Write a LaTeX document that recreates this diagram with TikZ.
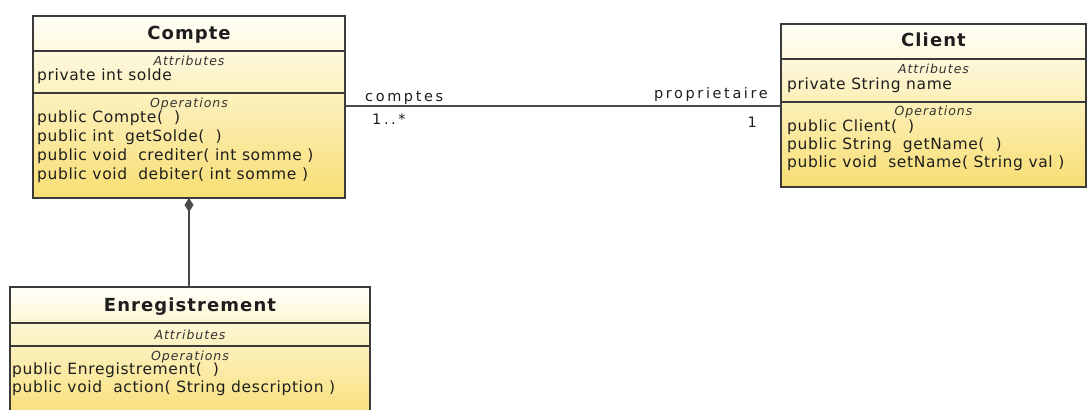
\documentclass[tikz,border=0pt]{standalone}
\usepackage{fontspec}
\setmainfont{DejaVu Sans}
\newfontfamily\titlefont{DejaVu Sans}[LetterSpace=6]
\newfontfamily\memberfont{DejaVu Sans}[LetterSpace=4]
\newfontfamily\sectfont{DejaVu Sans}[LetterSpace=8]
\newfontfamily\rolefont{DejaVu Sans}[LetterSpace=18]
\usetikzlibrary{arrows.meta}

\definecolor{boxline}{HTML}{3A3A3A}
\definecolor{linkgray}{HTML}{4A4A4A}
\definecolor{paleTop}{HTML}{FFFFF8}
\definecolor{paleBot}{HTML}{F8DE72}
\definecolor{txt}{HTML}{1E1E1E}
\definecolor{secTxt}{HTML}{333333}

\begin{document}
\begin{tikzpicture}[x=1pt,y=-1pt,
  classbox/.style={draw=boxline, line width=1.1pt, inner sep=0pt, outer sep=0pt,
    anchor=north west, shading=axis, top color=paleTop, bottom color=paleBot},
  classname/.style={anchor=base, inner sep=0pt,
    font=\titlefont\bfseries\fontsize{18}{21}\selectfont, text=txt},
  section/.style={anchor=base, inner sep=0pt,
    font=\sectfont\itshape\fontsize{12.5}{14}\selectfont, text=secTxt},
  member/.style={anchor=base west, inner sep=0pt,
    font=\memberfont\fontsize{15.5}{17}\selectfont, text=txt},
  role/.style={inner sep=0pt, font=\rolefont\fontsize{14.5}{16}\selectfont, text=txt},
  divider/.style={draw=boxline, line width=1.1pt},
  link/.style={draw=linkgray, line width=1.3pt}]

\fill[white] (0,0) rectangle (1088,410);
\useasboundingbox (0,0) rectangle (1088,410);

% ---- class Compte
\node[classbox, minimum width=312pt, minimum height=182pt] (compte) at (33,16) {};
\draw[divider] (compte.west |- 0,51) -- (compte.east |- 0,51);
\draw[divider] (compte.west |- 0,93) -- (compte.east |- 0,93);
\node[classname] (compteName) at (189,39.5) {Compte};
\node[section] (compteAttr) at (189,65.5) {Attributes};
\node[member] (compteA1) at (37,80.5) {private int solde};
\node[section] (compteOps) at (189,107.5) {Operations};
\node[member] (compteO1) at (37,122) {public Compte(~ )};
\node[member] (compteO2) at (37,141) {public int~ getSolde(~ )};
\node[member] (compteO3) at (37,160) {public void~ crediter( int somme )};
\node[member] (compteO4) at (37,179) {public void~ debiter( int somme )};

% ---- class Client
\node[classbox, minimum width=305pt, minimum height=163pt] (client) at (781,24) {};
\draw[divider] (client.west |- 0,59) -- (client.east |- 0,59);
\draw[divider] (client.west |- 0,102) -- (client.east |- 0,102);
\node[classname] (clientName) at (933.5,46) {Client};
\node[section] (clientAttr) at (933.5,73.5) {Attributes};
\node[member] (clientA1) at (787,89) {private String name};
\node[section] (clientOps) at (933.5,115.5) {Operations};
\node[member] (clientO1) at (787,131) {public Client(~ )};
\node[member] (clientO2) at (787,149) {public String~ getName(~ )};
\node[member] (clientO3) at (787,167) {public void~ setName( String val )};

% ---- class Enregistrement
\node[classbox, minimum width=360pt, minimum height=135pt] (enr) at (10,287) {};
\draw[divider] (enr.west |- 0,323) -- (enr.east |- 0,323);
\draw[divider] (enr.west |- 0,346) -- (enr.east |- 0,346);
\node[classname] (enrName) at (190,311) {Enregistrement};
\node[section] (enrAttr) at (190,339) {Attributes};
\node[section] (enrOps) at (190,360) {Operations};
\node[member] (enrO1) at (12,374.5) {public Enregistrement(~ )};
\node[member] (enrO2) at (12,392.5) {public void~ action( String description )};

% ---- association Compte -- Client
\draw[link] (compte.east |- 0,106) -- (client.west |- 0,106);
\node[role, anchor=base west] (roleComptes) at (365,101) {comptes};
\node[role, anchor=base west] (multComptes) at (372,124) {1..*};
\node[role, anchor=base east] (roleProp) at (768,98) {proprietaire};
\node[role, anchor=base east] (multProp) at (757,127) {1};

% ---- composition Compte <>-- Enregistrement
\draw[link, {Diamond[length=14pt,width=9pt]}-] (compte.south) -- (compte.south |- enr.north);
\end{tikzpicture}
\end{document}
